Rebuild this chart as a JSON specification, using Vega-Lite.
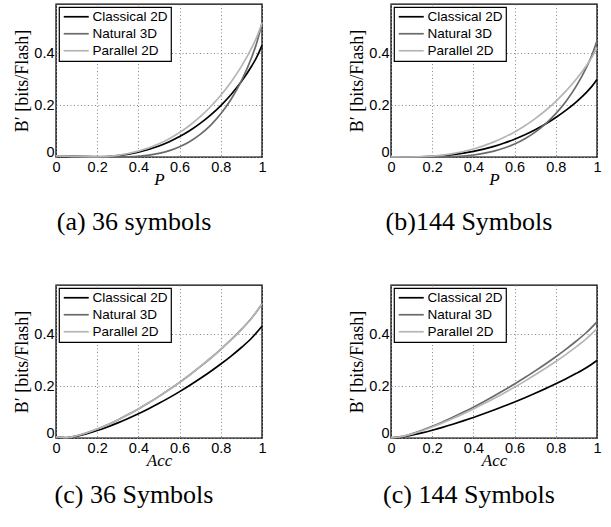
{
"$schema":"https://vega.github.io/schema/vega-lite/v6.json",
"padding":{"left":13,"top":3,"right":5,"bottom":5},
"background":"white",
"data":{"values":[
{"p":"a","s":"Classical 2D","x":0,"y":0.0034},{"p":"a","s":"Classical 2D","x":0.1,"y":0.0009},{"p":"a","s":"Classical 2D","x":0.2,"y":0.0003},{"p":"a","s":"Classical 2D","x":0.3,"y":0.0055},{"p":"a","s":"Classical 2D","x":0.4,"y":0.0189},{"p":"a","s":"Classical 2D","x":0.5,"y":0.0426},{"p":"a","s":"Classical 2D","x":0.55,"y":0.059},{"p":"a","s":"Classical 2D","x":0.6,"y":0.0787},{"p":"a","s":"Classical 2D","x":0.65,"y":0.1021},{"p":"a","s":"Classical 2D","x":0.7,"y":0.1295},{"p":"a","s":"Classical 2D","x":0.75,"y":0.1614},{"p":"a","s":"Classical 2D","x":0.8,"y":0.1984},{"p":"a","s":"Classical 2D","x":0.85,"y":0.2412},{"p":"a","s":"Classical 2D","x":0.9,"y":0.2912},{"p":"a","s":"Classical 2D","x":0.95,"y":0.3507},{"p":"a","s":"Classical 2D","x":0.975,"y":0.3861},{"p":"a","s":"Classical 2D","x":1,"y":0.4308},
{"p":"a","s":"Natural 3D","x":0,"y":0.0041},{"p":"a","s":"Natural 3D","x":0.1,"y":0.0034},{"p":"a","s":"Natural 3D","x":0.2,"y":0.0014},{"p":"a","s":"Natural 3D","x":0.3,"y":0.0},{"p":"a","s":"Natural 3D","x":0.4,"y":0.0026},{"p":"a","s":"Natural 3D","x":0.5,"y":0.0138},{"p":"a","s":"Natural 3D","x":0.55,"y":0.0245},{"p":"a","s":"Natural 3D","x":0.6,"y":0.0396},{"p":"a","s":"Natural 3D","x":0.65,"y":0.0601},{"p":"a","s":"Natural 3D","x":0.7,"y":0.0872},{"p":"a","s":"Natural 3D","x":0.75,"y":0.1222},{"p":"a","s":"Natural 3D","x":0.8,"y":0.1667},{"p":"a","s":"Natural 3D","x":0.85,"y":0.2228},{"p":"a","s":"Natural 3D","x":0.9,"y":0.2937},{"p":"a","s":"Natural 3D","x":0.95,"y":0.3848},{"p":"a","s":"Natural 3D","x":0.975,"y":0.4417},{"p":"a","s":"Natural 3D","x":1,"y":0.517},
{"p":"a","s":"Parallel 2D","x":0,"y":0.0041},{"p":"a","s":"Parallel 2D","x":0.1,"y":0.0011},{"p":"a","s":"Parallel 2D","x":0.2,"y":0.0004},{"p":"a","s":"Parallel 2D","x":0.3,"y":0.0066},{"p":"a","s":"Parallel 2D","x":0.4,"y":0.0227},{"p":"a","s":"Parallel 2D","x":0.5,"y":0.0512},{"p":"a","s":"Parallel 2D","x":0.55,"y":0.0708},{"p":"a","s":"Parallel 2D","x":0.6,"y":0.0944},{"p":"a","s":"Parallel 2D","x":0.65,"y":0.1225},{"p":"a","s":"Parallel 2D","x":0.7,"y":0.1554},{"p":"a","s":"Parallel 2D","x":0.75,"y":0.1937},{"p":"a","s":"Parallel 2D","x":0.8,"y":0.2381},{"p":"a","s":"Parallel 2D","x":0.85,"y":0.2895},{"p":"a","s":"Parallel 2D","x":0.9,"y":0.3494},{"p":"a","s":"Parallel 2D","x":0.95,"y":0.4209},{"p":"a","s":"Parallel 2D","x":0.975,"y":0.4633},{"p":"a","s":"Parallel 2D","x":1,"y":0.517},
{"p":"b","s":"Classical 2D","x":0,"y":0.0004},{"p":"b","s":"Classical 2D","x":0.1,"y":0.0},{"p":"b","s":"Classical 2D","x":0.2,"y":0.0023},{"p":"b","s":"Classical 2D","x":0.3,"y":0.0091},{"p":"b","s":"Classical 2D","x":0.4,"y":0.0217},{"p":"b","s":"Classical 2D","x":0.5,"y":0.0412},{"p":"b","s":"Classical 2D","x":0.55,"y":0.0538},{"p":"b","s":"Classical 2D","x":0.6,"y":0.0685},{"p":"b","s":"Classical 2D","x":0.65,"y":0.0855},{"p":"b","s":"Classical 2D","x":0.7,"y":0.1049},{"p":"b","s":"Classical 2D","x":0.75,"y":0.127},{"p":"b","s":"Classical 2D","x":0.8,"y":0.1521},{"p":"b","s":"Classical 2D","x":0.85,"y":0.1805},{"p":"b","s":"Classical 2D","x":0.9,"y":0.2128},{"p":"b","s":"Classical 2D","x":0.95,"y":0.2504},{"p":"b","s":"Classical 2D","x":0.975,"y":0.2722},{"p":"b","s":"Classical 2D","x":1,"y":0.2987},
{"p":"b","s":"Natural 3D","x":0,"y":0.0006},{"p":"b","s":"Natural 3D","x":0.1,"y":0.0004},{"p":"b","s":"Natural 3D","x":0.2,"y":0.0},{"p":"b","s":"Natural 3D","x":0.3,"y":0.0015},{"p":"b","s":"Natural 3D","x":0.4,"y":0.0078},{"p":"b","s":"Natural 3D","x":0.5,"y":0.0226},{"p":"b","s":"Natural 3D","x":0.55,"y":0.0345},{"p":"b","s":"Natural 3D","x":0.6,"y":0.0502},{"p":"b","s":"Natural 3D","x":0.65,"y":0.0705},{"p":"b","s":"Natural 3D","x":0.7,"y":0.0961},{"p":"b","s":"Natural 3D","x":0.75,"y":0.128},{"p":"b","s":"Natural 3D","x":0.8,"y":0.1673},{"p":"b","s":"Natural 3D","x":0.85,"y":0.2153},{"p":"b","s":"Natural 3D","x":0.9,"y":0.2742},{"p":"b","s":"Natural 3D","x":0.95,"y":0.3474},{"p":"b","s":"Natural 3D","x":0.975,"y":0.3918},{"p":"b","s":"Natural 3D","x":1,"y":0.4481},
{"p":"b","s":"Parallel 2D","x":0,"y":0.0006},{"p":"b","s":"Parallel 2D","x":0.1,"y":0.0},{"p":"b","s":"Parallel 2D","x":0.2,"y":0.0032},{"p":"b","s":"Parallel 2D","x":0.3,"y":0.0128},{"p":"b","s":"Parallel 2D","x":0.4,"y":0.0307},{"p":"b","s":"Parallel 2D","x":0.5,"y":0.0582},{"p":"b","s":"Parallel 2D","x":0.55,"y":0.076},{"p":"b","s":"Parallel 2D","x":0.6,"y":0.0968},{"p":"b","s":"Parallel 2D","x":0.65,"y":0.1207},{"p":"b","s":"Parallel 2D","x":0.7,"y":0.1482},{"p":"b","s":"Parallel 2D","x":0.75,"y":0.1793},{"p":"b","s":"Parallel 2D","x":0.8,"y":0.2147},{"p":"b","s":"Parallel 2D","x":0.85,"y":0.2548},{"p":"b","s":"Parallel 2D","x":0.9,"y":0.3005},{"p":"b","s":"Parallel 2D","x":0.95,"y":0.3536},{"p":"b","s":"Parallel 2D","x":0.975,"y":0.3843},{"p":"b","s":"Parallel 2D","x":1,"y":0.4218},
{"p":"c","s":"Classical 2D","x":0,"y":0.0034},{"p":"c","s":"Classical 2D","x":0.05,"y":0.0009},{"p":"c","s":"Classical 2D","x":0.1,"y":0.007},{"p":"c","s":"Classical 2D","x":0.15,"y":0.0167},{"p":"c","s":"Classical 2D","x":0.2,"y":0.0287},{"p":"c","s":"Classical 2D","x":0.25,"y":0.0426},{"p":"c","s":"Classical 2D","x":0.3,"y":0.0582},{"p":"c","s":"Classical 2D","x":0.35,"y":0.0752},{"p":"c","s":"Classical 2D","x":0.4,"y":0.0934},{"p":"c","s":"Classical 2D","x":0.45,"y":0.113},{"p":"c","s":"Classical 2D","x":0.5,"y":0.1338},{"p":"c","s":"Classical 2D","x":0.55,"y":0.1557},{"p":"c","s":"Classical 2D","x":0.6,"y":0.1789},{"p":"c","s":"Classical 2D","x":0.65,"y":0.2034},{"p":"c","s":"Classical 2D","x":0.7,"y":0.2292},{"p":"c","s":"Classical 2D","x":0.75,"y":0.2564},{"p":"c","s":"Classical 2D","x":0.8,"y":0.2852},{"p":"c","s":"Classical 2D","x":0.85,"y":0.3159},{"p":"c","s":"Classical 2D","x":0.9,"y":0.349},{"p":"c","s":"Classical 2D","x":0.95,"y":0.3856},{"p":"c","s":"Classical 2D","x":1,"y":0.4308},
{"p":"c","s":"Natural 3D","x":0,"y":0.0041},{"p":"c","s":"Natural 3D","x":0.05,"y":0.0011},{"p":"c","s":"Natural 3D","x":0.1,"y":0.0085},{"p":"c","s":"Natural 3D","x":0.15,"y":0.02},{"p":"c","s":"Natural 3D","x":0.2,"y":0.0345},{"p":"c","s":"Natural 3D","x":0.25,"y":0.0512},{"p":"c","s":"Natural 3D","x":0.3,"y":0.0698},{"p":"c","s":"Natural 3D","x":0.35,"y":0.0902},{"p":"c","s":"Natural 3D","x":0.4,"y":0.1121},{"p":"c","s":"Natural 3D","x":0.45,"y":0.1356},{"p":"c","s":"Natural 3D","x":0.5,"y":0.1605},{"p":"c","s":"Natural 3D","x":0.55,"y":0.1869},{"p":"c","s":"Natural 3D","x":0.6,"y":0.2147},{"p":"c","s":"Natural 3D","x":0.65,"y":0.2441},{"p":"c","s":"Natural 3D","x":0.7,"y":0.275},{"p":"c","s":"Natural 3D","x":0.75,"y":0.3076},{"p":"c","s":"Natural 3D","x":0.8,"y":0.3422},{"p":"c","s":"Natural 3D","x":0.85,"y":0.3791},{"p":"c","s":"Natural 3D","x":0.9,"y":0.4188},{"p":"c","s":"Natural 3D","x":0.95,"y":0.4627},{"p":"c","s":"Natural 3D","x":1,"y":0.517},
{"p":"c","s":"Parallel 2D","x":0,"y":0.0041},{"p":"c","s":"Parallel 2D","x":0.05,"y":0.0011},{"p":"c","s":"Parallel 2D","x":0.1,"y":0.0085},{"p":"c","s":"Parallel 2D","x":0.15,"y":0.02},{"p":"c","s":"Parallel 2D","x":0.2,"y":0.0345},{"p":"c","s":"Parallel 2D","x":0.25,"y":0.0512},{"p":"c","s":"Parallel 2D","x":0.3,"y":0.0698},{"p":"c","s":"Parallel 2D","x":0.35,"y":0.0902},{"p":"c","s":"Parallel 2D","x":0.4,"y":0.1121},{"p":"c","s":"Parallel 2D","x":0.45,"y":0.1356},{"p":"c","s":"Parallel 2D","x":0.5,"y":0.1605},{"p":"c","s":"Parallel 2D","x":0.55,"y":0.1869},{"p":"c","s":"Parallel 2D","x":0.6,"y":0.2147},{"p":"c","s":"Parallel 2D","x":0.65,"y":0.2441},{"p":"c","s":"Parallel 2D","x":0.7,"y":0.275},{"p":"c","s":"Parallel 2D","x":0.75,"y":0.3076},{"p":"c","s":"Parallel 2D","x":0.8,"y":0.3422},{"p":"c","s":"Parallel 2D","x":0.85,"y":0.3791},{"p":"c","s":"Parallel 2D","x":0.9,"y":0.4188},{"p":"c","s":"Parallel 2D","x":0.95,"y":0.4627},{"p":"c","s":"Parallel 2D","x":1,"y":0.517},
{"p":"d","s":"Classical 2D","x":0,"y":0.0004},{"p":"d","s":"Classical 2D","x":0.05,"y":0.0034},{"p":"d","s":"Classical 2D","x":0.1,"y":0.0107},{"p":"d","s":"Classical 2D","x":0.15,"y":0.0198},{"p":"d","s":"Classical 2D","x":0.2,"y":0.03},{"p":"d","s":"Classical 2D","x":0.25,"y":0.0412},{"p":"d","s":"Classical 2D","x":0.3,"y":0.0532},{"p":"d","s":"Classical 2D","x":0.35,"y":0.0659},{"p":"d","s":"Classical 2D","x":0.4,"y":0.0793},{"p":"d","s":"Classical 2D","x":0.45,"y":0.0933},{"p":"d","s":"Classical 2D","x":0.5,"y":0.1079},{"p":"d","s":"Classical 2D","x":0.55,"y":0.1231},{"p":"d","s":"Classical 2D","x":0.6,"y":0.139},{"p":"d","s":"Classical 2D","x":0.65,"y":0.1554},{"p":"d","s":"Classical 2D","x":0.7,"y":0.1725},{"p":"d","s":"Classical 2D","x":0.75,"y":0.1904},{"p":"d","s":"Classical 2D","x":0.8,"y":0.209},{"p":"d","s":"Classical 2D","x":0.85,"y":0.2286},{"p":"d","s":"Classical 2D","x":0.9,"y":0.2494},{"p":"d","s":"Classical 2D","x":0.95,"y":0.2719},{"p":"d","s":"Classical 2D","x":1,"y":0.2987},
{"p":"d","s":"Natural 3D","x":0,"y":0.0006},{"p":"d","s":"Natural 3D","x":0.05,"y":0.0051},{"p":"d","s":"Natural 3D","x":0.1,"y":0.0161},{"p":"d","s":"Natural 3D","x":0.15,"y":0.0296},{"p":"d","s":"Natural 3D","x":0.2,"y":0.045},{"p":"d","s":"Natural 3D","x":0.25,"y":0.0618},{"p":"d","s":"Natural 3D","x":0.3,"y":0.0798},{"p":"d","s":"Natural 3D","x":0.35,"y":0.0989},{"p":"d","s":"Natural 3D","x":0.4,"y":0.1189},{"p":"d","s":"Natural 3D","x":0.45,"y":0.14},{"p":"d","s":"Natural 3D","x":0.5,"y":0.1619},{"p":"d","s":"Natural 3D","x":0.55,"y":0.1847},{"p":"d","s":"Natural 3D","x":0.6,"y":0.2084},{"p":"d","s":"Natural 3D","x":0.65,"y":0.2331},{"p":"d","s":"Natural 3D","x":0.7,"y":0.2588},{"p":"d","s":"Natural 3D","x":0.75,"y":0.2855},{"p":"d","s":"Natural 3D","x":0.8,"y":0.3135},{"p":"d","s":"Natural 3D","x":0.85,"y":0.3429},{"p":"d","s":"Natural 3D","x":0.9,"y":0.3741},{"p":"d","s":"Natural 3D","x":0.95,"y":0.4078},{"p":"d","s":"Natural 3D","x":1,"y":0.4481},
{"p":"d","s":"Parallel 2D","x":0,"y":0.0006},{"p":"d","s":"Parallel 2D","x":0.05,"y":0.0048},{"p":"d","s":"Parallel 2D","x":0.1,"y":0.0151},{"p":"d","s":"Parallel 2D","x":0.15,"y":0.0279},{"p":"d","s":"Parallel 2D","x":0.2,"y":0.0424},{"p":"d","s":"Parallel 2D","x":0.25,"y":0.0582},{"p":"d","s":"Parallel 2D","x":0.3,"y":0.0751},{"p":"d","s":"Parallel 2D","x":0.35,"y":0.0931},{"p":"d","s":"Parallel 2D","x":0.4,"y":0.1119},{"p":"d","s":"Parallel 2D","x":0.45,"y":0.1317},{"p":"d","s":"Parallel 2D","x":0.5,"y":0.1524},{"p":"d","s":"Parallel 2D","x":0.55,"y":0.1738},{"p":"d","s":"Parallel 2D","x":0.6,"y":0.1962},{"p":"d","s":"Parallel 2D","x":0.65,"y":0.2194},{"p":"d","s":"Parallel 2D","x":0.7,"y":0.2436},{"p":"d","s":"Parallel 2D","x":0.75,"y":0.2687},{"p":"d","s":"Parallel 2D","x":0.8,"y":0.2949},{"p":"d","s":"Parallel 2D","x":0.85,"y":0.3227},{"p":"d","s":"Parallel 2D","x":0.9,"y":0.3521},{"p":"d","s":"Parallel 2D","x":0.95,"y":0.3839},{"p":"d","s":"Parallel 2D","x":1,"y":0.4218}
]},
"columns":2,
"spacing":{"row":128,"column":129},
"bounds":"flush",
"resolve":{"legend":{"color":"independent"}},
"concat":[
{"transform":[{"filter":"datum.p==='a'"}],"width":206,"height":153,
 "title":{"text":"(a) 36 symbols","orient":"bottom","dx":-25,"offset":21},
 "mark":{"type":"line"},
 "encoding":{
  "x":{"field":"x","type":"quantitative","scale":{"domain":[0,1]},"axis":{"title":"P","values":[0,0.2,0.4,0.6,0.8,1]}},
  "y":{"field":"y","type":"quantitative","scale":{"domain":[0,0.59]},"axis":{"title":"B′ [bits/Flash]","values":[0,0.2,0.4]}},
  "color":{"field":"s","type":"nominal","scale":{"domain":["Classical 2D","Natural 3D","Parallel 2D"],"range":["#000000","#6a6a6a","#b5b5b5"]},"legend":{"title":null}}}},
{"transform":[{"filter":"datum.p==='b'"}],"width":206,"height":153,
 "title":{"text":"(b)144 Symbols","orient":"bottom","dx":-25,"offset":21},
 "mark":{"type":"line"},
 "encoding":{
  "x":{"field":"x","type":"quantitative","scale":{"domain":[0,1]},"axis":{"title":"P","values":[0,0.2,0.4,0.6,0.8,1]}},
  "y":{"field":"y","type":"quantitative","scale":{"domain":[0,0.59]},"axis":{"title":"B′ [bits/Flash]","values":[0,0.2,0.4]}},
  "color":{"field":"s","type":"nominal","scale":{"domain":["Classical 2D","Natural 3D","Parallel 2D"],"range":["#000000","#6a6a6a","#b5b5b5"]},"legend":{"title":null}}}},
{"transform":[{"filter":"datum.p==='c'"}],"width":206,"height":153,
 "title":{"text":"(c) 36 Symbols","orient":"bottom","dx":-25,"offset":13},
 "mark":{"type":"line"},
 "encoding":{
  "x":{"field":"x","type":"quantitative","scale":{"domain":[0,1]},"axis":{"title":"Acc","values":[0,0.2,0.4,0.6,0.8,1]}},
  "y":{"field":"y","type":"quantitative","scale":{"domain":[0,0.59]},"axis":{"title":"B′ [bits/Flash]","values":[0,0.2,0.4]}},
  "color":{"field":"s","type":"nominal","scale":{"domain":["Classical 2D","Natural 3D","Parallel 2D"],"range":["#000000","#6a6a6a","#b5b5b5"]},"legend":{"title":null}}}},
{"transform":[{"filter":"datum.p==='d'"}],"width":206,"height":153,
 "title":{"text":"(c) 144 Symbols","orient":"bottom","dx":-25,"offset":13},
 "mark":{"type":"line"},
 "encoding":{
  "x":{"field":"x","type":"quantitative","scale":{"domain":[0,1]},"axis":{"title":"Acc","values":[0,0.2,0.4,0.6,0.8,1]}},
  "y":{"field":"y","type":"quantitative","scale":{"domain":[0,0.59]},"axis":{"title":"B′ [bits/Flash]","values":[0,0.2,0.4]}},
  "color":{"field":"s","type":"nominal","scale":{"domain":["Classical 2D","Natural 3D","Parallel 2D"],"range":["#000000","#6a6a6a","#b5b5b5"]},"legend":{"title":null}}}}
],
"config":{
 "view":{"stroke":"#000000","strokeWidth":1.4},
 "line":{"strokeWidth":1.7,"interpolate":"monotone"},
 "axis":{"grid":true,"gridDash":[1,2.5],"gridColor":"#888888","gridWidth":1,"gridOpacity":1,"domain":false,"ticks":false,"labelFont":"Liberation Sans","labelFontSize":14.5,"labelColor":"#000000","labelPadding":2,"labelFlush":false,"labelOverlap":false,"format":"~g","titleFont":"Liberation Serif","titleFontWeight":"normal","titleColor":"#000000"},
 "axisX":{"titleFontStyle":"italic","titleFontSize":17,"titlePadding":-2,"labelPadding":3},
 "axisY":{"titleFontSize":18,"titlePadding":2,"labelOffset":{"condition":{"test":"datum.value === 0","value":-5},"value":0}},
 "legend":{"orient":"top-left","offset":3,"strokeColor":"#000000","strokeWidth":1.2,"fillColor":"#ffffff","padding":3,"cornerRadius":0,"labelFont":"Liberation Sans","labelFontSize":13.5,"labelColor":"#000000","labelOffset":17,"symbolType":"M-1,0H4","symbolSize":100,"symbolStrokeWidth":1.7,"rowPadding":2},
 "title":{"font":"Liberation Serif","fontSize":26,"fontWeight":"normal","color":"#000000","anchor":"middle"}
}
}
